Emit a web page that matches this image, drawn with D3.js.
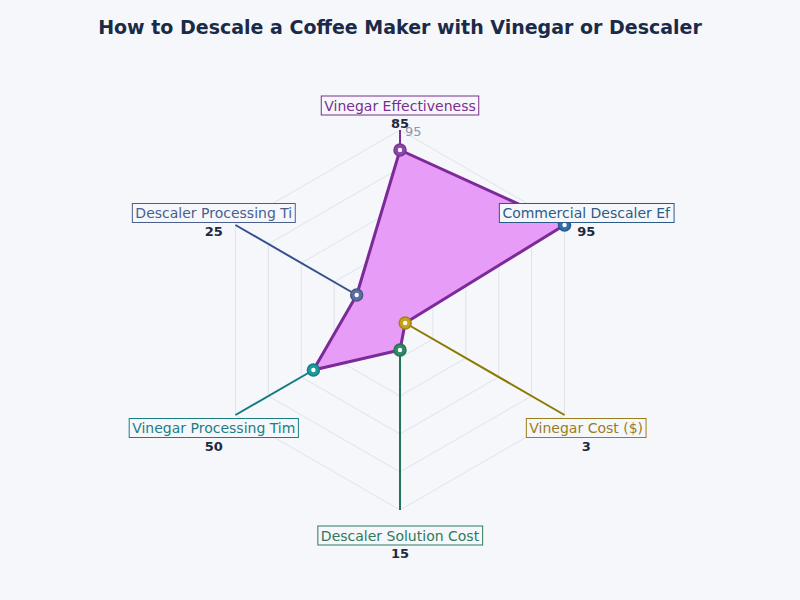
<!DOCTYPE html>
<html>
<head>
<meta charset="utf-8">
<script src="https://cdn.jsdelivr.net/npm/d3@7"></script>
<style>
    body { margin: 0; background: #f5f7fb; }
    svg { display: block; }
</style>
</head>
<body>
<div id="radar-chart"></div>
<script>
    'use strict';

    // Data
    var axisLabels = ["Vinegar Effectiveness ", "Commercial Descaler Ef", "Vinegar Cost ($)",
        "Descaler Solution Cost", "Vinegar Processing Tim", "Descaler Processing Ti"];
    var axisValues = [85, 95, 3, 15, 50, 25];
    var axisColors = ["#8e44ad", "#2f6fae", "#c9a21c", "#2e8b66", "#1b9ba1", "#5b6fa3"];
    var lineColors = ["#7d2f99", "#2f5f93", "#8c7a00", "#1f7657", "#137b80", "#36518a"];
    var textColors = ["#7a2f8e", "#2d5b87", "#9a7d1c", "#2e7a5a", "#1a7f85", "#4a5f8e"];
    var maxValue = 95;
    var ringLevels = [1, 2, 3, 4, 5];
    var tickLabel = "95";
    var title = "How to Descale a Coffee Maker with Vinegar or Descaler";

    // Layout
    var layout = {
        width: 800,
        height: 600,
        cx: 400,
        cy: 320,
        radius: 190,
        labelRadius: 215
    };

    var elChart = d3.select("#radar-chart").append("svg")
        .attr("width", layout.width)
        .attr("height", layout.height)
        .style("font-family", "'DejaVu Sans', sans-serif");

    elChart.append("rect")
        .attr("width", layout.width)
        .attr("height", layout.height)
        .attr("fill", "#f5f7fb");

    elChart.append("text")
        .attr("x", layout.width / 2)
        .attr("y", 34)
        .attr("text-anchor", "middle")
        .attr("font-size", 19)
        .attr("font-weight", "bold")
        .attr("fill", "#1b2a47")
        .text(title);

    var rScale = d3.scaleLinear().domain([0, maxValue]).range([0, layout.radius]);
    var aScale = d3.scaleLinear().domain([0, axisLabels.length]).range([0, 2 * Math.PI]);

    var g = elChart.append("g")
        .attr("transform", "translate(" + layout.cx + "," + layout.cy + ")");

    var point = function(i, r) {
        var a = aScale(i);
        return [r * Math.sin(a), -r * Math.cos(a)];
    };

    // Grid rings
    ringLevels.forEach(function(level) {
        var r = layout.radius * level / ringLevels.length;
        var pts = axisLabels.map(function(d, i) { return point(i, r); });
        g.append("polygon")
            .attr("points", pts.map(function(p) { return p.join(","); }).join(" "))
            .attr("fill", "none")
            .attr("stroke", "#dfe3ea")
            .attr("stroke-width", 1);
    });

    // Tick label
    g.append("text")
        .attr("x", 5)
        .attr("y", -layout.radius + 6)
        .attr("font-size", 13)
        .attr("fill", "#8d96a8")
        .text(tickLabel);

    // Data polygon
    var radial = d3.lineRadial()
        .angle(function(d, i) { return aScale(i); })
        .radius(function(d) { return rScale(d); })
        .curve(d3.curveLinearClosed);

    g.append("path")
        .attr("d", radial(axisValues))
        .attr("fill", "#e79cf8")
        .attr("stroke", "#7b2a98")
        .attr("stroke-width", 3)
        .attr("stroke-linejoin", "round");

    // Leader lines from point to outer edge
    axisValues.forEach(function(v, i) {
        var p0 = point(i, rScale(v));
        var p1 = point(i, layout.radius);
        g.append("line")
            .attr("x1", p0[0]).attr("y1", p0[1])
            .attr("x2", p1[0]).attr("y2", p1[1])
            .attr("stroke", lineColors[i])
            .attr("stroke-width", 2);
    });

    // Markers
    axisValues.forEach(function(v, i) {
        var p = point(i, rScale(v));
        g.append("circle")
            .attr("cx", p[0]).attr("cy", p[1])
            .attr("r", 6)
            .attr("fill", axisColors[i])
            .attr("stroke", d3.color(axisColors[i]).darker(0.6))
            .attr("stroke-width", 1.5);
        g.append("circle")
            .attr("cx", p[0]).attr("cy", p[1])
            .attr("r", 2.2)
            .attr("fill", "#ffffff");
    });

    // Axis labels with boxes
    axisLabels.forEach(function(label, i) {
        var p = point(i, layout.labelRadius);
        var lg = g.append("g").attr("transform", "translate(" + p[0] + "," + p[1] + ")");
        var box = lg.append("rect");
        var txt = lg.append("text")
            .attr("text-anchor", "middle")
            .attr("y", 5.5)
            .attr("font-size", 14)
            .attr("fill", textColors[i])
            .text(label);
        var bb = txt.node().getBBox();
        box.attr("x", bb.x - 3)
            .attr("y", -9)
            .attr("width", bb.width + 6)
            .attr("height", 19)
            .attr("fill", "#f5f7fb")
            .attr("stroke", textColors[i])
            .attr("stroke-width", 1);
        lg.append("text")
            .attr("text-anchor", "middle")
            .attr("y", 23)
            .attr("font-size", 13)
            .attr("font-weight", "bold")
            .attr("fill", "#1f2940")
            .text(axisValues[i]);
    });
</script>
</body>
</html>
